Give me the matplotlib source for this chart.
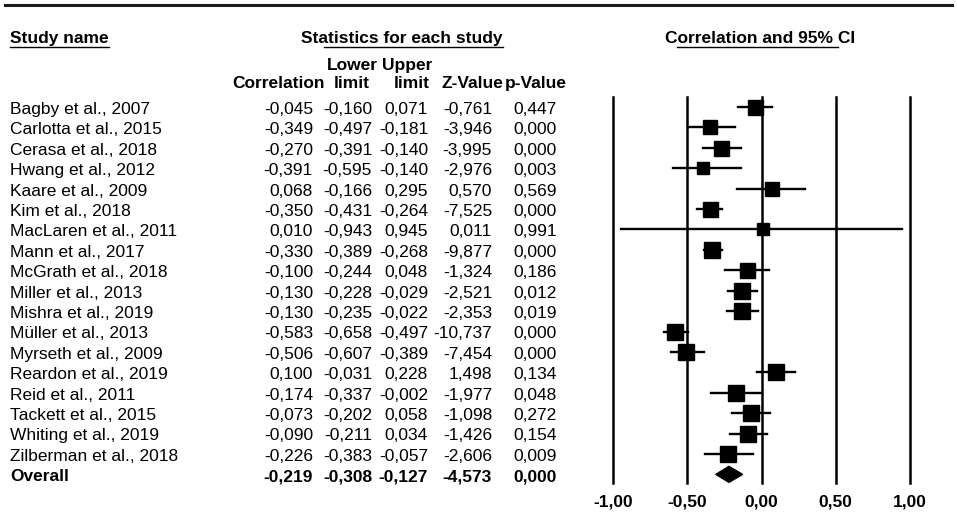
import matplotlib
matplotlib.use("Agg")
import matplotlib.pyplot as plt
from matplotlib import transforms

plt.rcParams['font.family'] = ['Liberation Sans', 'DejaVu Sans']

studies = ["Bagby et al., 2007", "Carlotta et al., 2015", "Cerasa et al., 2018",
           "Hwang et al., 2012", "Kaare et al., 2009", "Kim et al., 2018",
           "MacLaren et al., 2011", "Mann et al., 2017", "McGrath et al., 2018",
           "Miller et al., 2013", "Mishra et al., 2019", "Müller et al., 2013",
           "Myrseth et al., 2009", "Reardon et al., 2019", "Reid et al., 2011",
           "Tackett et al., 2015", "Whiting et al., 2019", "Zilberman et al., 2018"]
corr = [-0.045, -0.349, -0.270, -0.391, 0.068, -0.350, 0.010, -0.330, -0.100,
        -0.130, -0.130, -0.583, -0.506, 0.100, -0.174, -0.073, -0.090, -0.226]
lower = [-0.160, -0.497, -0.391, -0.595, -0.166, -0.431, -0.943, -0.389, -0.244,
         -0.228, -0.235, -0.658, -0.607, -0.031, -0.337, -0.202, -0.211, -0.383]
upper = [0.071, -0.181, -0.140, -0.140, 0.295, -0.264, 0.945, -0.268, 0.048,
         -0.029, -0.022, -0.497, -0.389, 0.228, -0.002, 0.058, 0.034, -0.057]
zval = [-0.761, -3.946, -3.995, -2.976, 0.570, -7.525, 0.011, -9.877, -1.324,
        -2.521, -2.353, -10.737, -7.454, 1.498, -1.977, -1.098, -1.426, -2.606]
pval = [0.447, 0.000, 0.000, 0.003, 0.569, 0.000, 0.991, 0.000, 0.186,
        0.012, 0.019, 0.000, 0.000, 0.134, 0.048, 0.272, 0.154, 0.009]
# relative study weights (box size)
weights = [0.90, 0.86, 0.90, 0.76, 0.84, 0.90, 0.74, 1.00, 0.90,
           1.00, 1.00, 0.94, 0.96, 1.00, 0.94, 0.96, 0.98, 0.94]

overall = {"corr": -0.219, "lower": -0.308, "upper": -0.127, "z": -4.573, "p": 0.000}

xticks = [-1.0, -0.5, 0.0, 0.5, 1.0]


def fmt(v):
    return f"{v:.3f}".replace(".", ",")


W, H = 957, 524
fig = plt.figure(figsize=(W / 100, H / 100), dpi=100)
fig.patch.set_facecolor("white")

# background axes in pixel units, for headers and rules
bg = fig.add_axes([0, 0, 1, 1])
bg.set_xlim(0, W)
bg.set_ylim(H, 0)
bg.axis("off")

# forest plot axes
top_px, bot_px = 97, 483
ax = fig.add_axes([613 / W, (H - bot_px) / H, 297 / W, (bot_px - top_px) / H])
row0_px, step_px = 107, 20.41
ax.set_xlim(-1, 1)
ax.set_ylim((bot_px - row0_px) / step_px, (top_px - row0_px) / step_px)
for s in ax.spines.values():
    s.set_visible(False)
ax.set_yticks([])
ax.set_xticks(xticks)
ax.set_xticklabels([f"{t:.2f}".replace(".", ",") for t in xticks],
                   fontsize=12.5, fontweight="bold")
ax.tick_params(axis="x", length=0, pad=8)
ax.patch.set_alpha(0)

for t in xticks:
    ax.axvline(t, color="black", lw=1.8, clip_on=False, zorder=1)

n = len(studies)
for i in range(n):
    ax.plot([lower[i], upper[i]], [i, i], color="black", lw=1.7, zorder=2)
    ax.plot(corr[i], i, marker="s", color="black", markersize=12 * weights[i],
            zorder=3)

h = 8 / step_px
ax.fill([overall["lower"], overall["corr"], overall["upper"], overall["corr"]],
        [n, n - h, n, n + h], color="black", zorder=3)

# table text: x in pixels, y in row units
tr = transforms.blended_transform_factory(bg.transData, ax.transData)
fs = 12.5
off = 0.34
cols_right = [313, 372, 428, 492, 557]

for i in range(n):
    ax.text(10, i + off, studies[i], transform=tr, fontsize=fs, va="baseline")
    vals = [fmt(corr[i]), fmt(lower[i]), fmt(upper[i]), fmt(zval[i]), fmt(pval[i])]
    for x, v in zip(cols_right, vals):
        ax.text(x, i + off, v, transform=tr, fontsize=fs, va="baseline", ha="right")

ax.text(10, n + off, "Overall", transform=tr, fontsize=fs, va="baseline",
        fontweight="bold")
ov = [fmt(overall["corr"]), fmt(overall["lower"]), fmt(overall["upper"]),
      fmt(overall["z"]), fmt(overall["p"])]
for x, v in zip(cols_right, ov):
    ax.text(x, n + off, v, transform=tr, fontsize=fs, va="baseline", ha="right",
            fontweight="bold")

# headers
bg.plot([5, 952], [5, 5], color="#1a1a1a", lw=2.2)
bg.text(10, 43, "Study name", fontsize=fs, fontweight="bold", va="baseline")
bg.plot([10, 109], [47, 47], color="black", lw=1)
bg.text(401.5, 43, "Statistics for each study", fontsize=fs, fontweight="bold",
        va="baseline", ha="center")
bg.plot([324, 503], [47, 47], color="black", lw=1)
bg.text(760, 43, "Correlation and 95% CI", fontsize=fs, fontweight="bold",
        va="baseline", ha="center")
bg.plot([677, 838], [47, 47], color="black", lw=1)

bg.text(378, 70, "Lower", fontsize=fs, fontweight="bold", va="baseline", ha="right")
bg.text(432, 70, "Upper", fontsize=fs, fontweight="bold", va="baseline", ha="right")
bg.text(325, 88, "Correlation", fontsize=fs, fontweight="bold", va="baseline", ha="right")
bg.text(370, 88, "limit", fontsize=fs, fontweight="bold", va="baseline", ha="right")
bg.text(430, 88, "limit", fontsize=fs, fontweight="bold", va="baseline", ha="right")
bg.text(441, 88, "Z-Value", fontsize=fs, fontweight="bold", va="baseline", ha="left")
bg.text(567, 88, "p-Value", fontsize=fs, fontweight="bold", va="baseline", ha="right")

fig.savefig("out.png", dpi=100)
